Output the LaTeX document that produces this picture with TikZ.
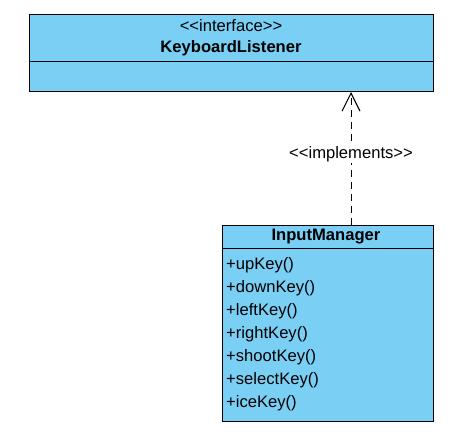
\documentclass[tikz,border=0pt]{standalone}
\usepackage{fontspec}
\setmainfont{Liberation Sans}[Ligatures=TeXOff]
\usetikzlibrary{arrows.meta}
\definecolor{classblue}{RGB}{122,207,245}
\tikzset{
  classbox/.style={draw=black, fill=classblue, line width=1pt, inner sep=0pt, anchor=north west},
  umltext/.style={font=\fontsize{16.6}{20}\selectfont, inner sep=0pt},
}
\begin{document}
\begin{tikzpicture}[x=1pt,y=-1pt]
\useasboundingbox (0,0) rectangle (458,445);
% interface
\node[classbox, minimum width=404pt, minimum height=47pt] (listener) at (29,14) {};
\node[classbox, minimum width=404pt, minimum height=30pt] (listenerops) at (29,61) {};
\node[umltext] (stereo) at (231,26) {<<interface>>};
\node[umltext, font=\fontsize{16.6}{20}\selectfont\bfseries] (listenername) at (231,48) {KeyboardListener};
% class
\node[classbox, minimum width=211pt, minimum height=23pt] (manager) at (222,225) {};
\node[classbox, minimum width=211pt, minimum height=173pt] (managerops) at (222,248) {};
\node[umltext, font=\fontsize{16.6}{20}\selectfont\bfseries] (managername) at (326,236.5) {InputManager};
\foreach \m [count=\i from 0] in {upKey, downKey, leftKey, rightKey, shootKey, selectKey, iceKey}
    \node[umltext, anchor=west] (op\i) at (226,265+23*\i) {+\m()};
% realization
\coordinate (implfoot) at ([xshift=-83pt]manager.north east);
\draw[line width=0.9pt, dash pattern=on 7pt off 5pt, -{Straight Barb[length=18pt, width=18pt, line width=1.1pt]}]
    (implfoot) -- (implfoot |- listenerops.south)
    node[umltext, pos=0.53, fill=white, inner sep=1pt] (impl) {<<implements>>};
\end{tikzpicture}
\end{document}
